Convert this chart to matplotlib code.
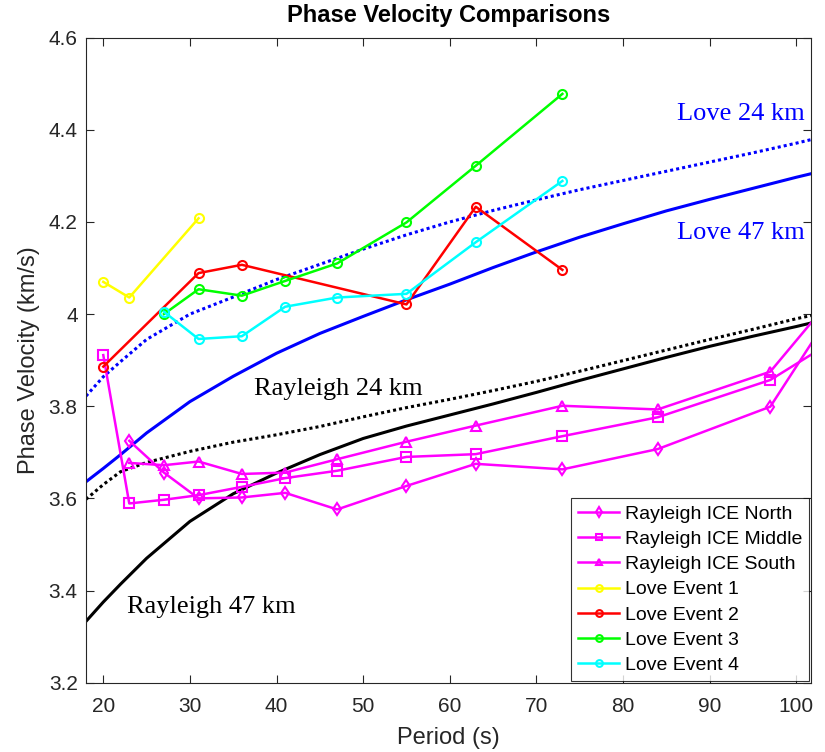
import matplotlib
matplotlib.use("Agg")
import matplotlib.pyplot as plt

# measured dispersion (periods in s, velocities in km/s)
ray_periods = [20, 23, 27, 31, 36, 41, 47, 55, 63, 73, 84, 97, 111]
ice_north = [3.725, 3.656, 3.600, 3.602, 3.612, 3.576, 3.627, 3.675, 3.663, 3.707, 3.799, 4.205]
ice_middle = [3.911, 3.589, 3.597, 3.607, 3.625, 3.644, 3.660, 3.690, 3.696, 3.735, 3.776, 3.857, 4.02]
ice_south = [3.677, 3.672, 3.680, 3.653, 3.656, 3.685, 3.723, 3.758, 3.801, 3.793, 3.875, 4.19]

ev1_periods = [20, 23, 31]
ev1 = [4.070, 4.036, 4.208]
ev2_periods = [20, 31, 36, 55, 63, 73]
ev2 = [3.886, 4.089, 4.107, 4.021, 4.233, 4.096]
ev34_periods = [27, 31, 36, 41, 47, 55, 63, 73]
ev3 = [4.000, 4.054, 4.040, 4.072, 4.110, 4.199, 4.322, 4.478]
ev4 = [4.005, 3.946, 3.952, 4.016, 4.036, 4.044, 4.156, 4.289]

# model curves
mod_periods = [18, 20, 22, 25, 30, 35, 40, 45, 50, 55, 60, 65, 70, 75, 80, 85, 90, 95, 100, 102]
love24 = [3.822, 3.864, 3.897, 3.945, 4.000, 4.037, 4.075, 4.108, 4.141, 4.172, 4.200, 4.225,
          4.248, 4.270, 4.290, 4.310, 4.330, 4.350, 4.371, 4.380]
love47 = [3.636, 3.665, 3.695, 3.742, 3.810, 3.865, 3.915, 3.958, 3.995, 4.031, 4.065, 4.101,
          4.135, 4.167, 4.196, 4.224, 4.249, 4.273, 4.297, 4.306]
ray24 = [3.598, 3.630, 3.658, 3.678, 3.702, 3.722, 3.738, 3.756, 3.777, 3.797, 3.815, 3.834,
         3.854, 3.876, 3.899, 3.922, 3.945, 3.967, 3.990, 3.998]
ray47 = [3.333, 3.375, 3.414, 3.470, 3.550, 3.610, 3.655, 3.695, 3.730, 3.757, 3.781, 3.805,
         3.830, 3.856, 3.881, 3.906, 3.930, 3.952, 3.973, 3.982]

plt.rcParams['font.family'] = ['Liberation Sans', 'DejaVu Sans']
fig = plt.figure(figsize=(8.25, 7.52), dpi=100)
ax = fig.add_axes([0.1042, 0.0922, 0.8788, 0.8577])

dots = (0, (1, 1))
ax.plot(mod_periods, love24, color='#0000ff', lw=2.2, linestyle=dots)
ax.plot(mod_periods, love47, color='#0000ff', lw=2.2)
ax.plot(mod_periods, ray24, color='black', lw=2.2, linestyle=dots)
ax.plot(mod_periods, ray47, color='black', lw=2.2)

mk = dict(lw=1.8, ms=6.5, mew=1.5, markerfacecolor='none')
ax.plot(ray_periods[1:], ice_north, color='#ff00ff', marker='d', label='Rayleigh ICE North', **mk)
ax.plot(ray_periods, ice_middle, color='#ff00ff', marker='s', label='Rayleigh ICE Middle', **mk)
ax.plot(ray_periods[1:], ice_south, color='#ff00ff', marker='^', label='Rayleigh ICE South', **mk)
ax.plot(ev1_periods, ev1, color='#ffff00', marker='o', label='Love Event 1', **mk)
ax.plot(ev2_periods, ev2, color='#ff0000', marker='o', label='Love Event 2', **mk)
ax.plot(ev34_periods, ev3, color='#00ff00', marker='o', label='Love Event 3', **mk)
ax.plot(ev34_periods, ev4, color='#00ffff', marker='o', label='Love Event 4', **mk)

serif = ['Liberation Serif', 'DejaVu Serif']
ax.text(86.2, 4.421, 'Love 24 km', color='#0000ff', fontsize=19, family=serif)
ax.text(86.2, 4.163, 'Love 47 km', color='#0000ff', fontsize=19, family=serif)
ax.text(37.4, 3.824, 'Rayleigh 24 km', color='black', fontsize=19, family=serif)
ax.text(22.7, 3.352, 'Rayleigh 47 km', color='black', fontsize=19, family=serif)

ax.set_xlim(18, 101.7)
ax.set_ylim(3.2, 4.6)
ax.set_xticks(range(20, 101, 10))
yt = [3.2, 3.4, 3.6, 3.8, 4.0, 4.2, 4.4, 4.6]
ax.set_yticks(yt)
ax.set_yticklabels(['%g' % v for v in yt])
ax.tick_params(direction='in', length=6, width=0.8, colors='#262626',
               labelsize=15, top=True, right=True)
ax.tick_params(axis='x', pad=10)
ax.tick_params(axis='y', pad=6)
for s in ax.spines.values():
    s.set_color('#262626')
    s.set_linewidth(0.8)

ax.set_xlabel('Period (s)', fontsize=17, color='#262626', labelpad=8)
ax.set_ylabel('Phase Velocity (km/s)', fontsize=17, color='#262626', labelpad=6)
ax.set_title('Phase Velocity Comparisons', fontsize=17, fontweight='bold', pad=11)

leg = ax.legend(loc='lower right', fontsize=14, frameon=True, fancybox=False,
                edgecolor='black', handlelength=2.1, handletextpad=0.3,
                labelspacing=0.39, borderaxespad=0.1, borderpad=0.35, markerscale=0.75)
leg.get_frame().set_linewidth(0.8)

fig.savefig('out.png', dpi=100)
